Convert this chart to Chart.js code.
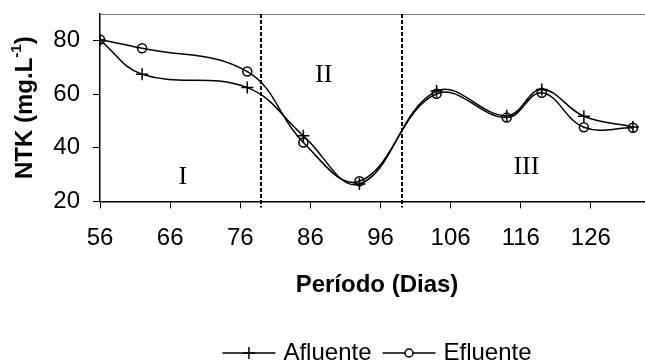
<!DOCTYPE html>
<html>
<head>
<meta charset="utf-8">
<script src="https://cdn.jsdelivr.net/npm/chart.js@4.4.0/dist/chart.umd.min.js"></script>
<style>
html, body { margin: 0; padding: 0; background: #fff; overflow: hidden; }
canvas { display: block; }
</style>
</head>
<body>
<canvas id="ntkChart" width="654" height="362"></canvas>
<script>
// NTK no afluente e efluente ao longo do período (dias)
const days = [56, 62, 77, 85, 93, 104, 114, 119, 125, 132];
const afluente = [80.3, 67.5, 62.5, 44.5, 26.5, 61.2, 52.0, 61.8, 51.8, 47.8];
const efluente = [80.5, 77.2, 68.5, 42.0, 27.5, 60.2, 51.3, 60.6, 47.7, 47.5];
const xTicks = [56, 66, 76, 86, 96, 106, 116, 126];
const yTicks = [20, 40, 60, 80];

// limites das fases e seus rótulos
const phaseLimits = [79, 99];
const phaseNames = ['I', 'II', 'III'];
const phaseSpots = [[67.8, 28.9], [87.9, 67.3], [116.8, 32.7]];

const FONT = "'Liberation Sans', Arial, sans-serif";
Chart.defaults.font.family = FONT;
Chart.defaults.color = '#000';

function toPoints(ys) {
    return days.map((d, i) => ({ x: d, y: ys[i] }));
}

function drawMarker(ctx, style, x, y) {
    ctx.beginPath();
    if (style === 'cross') {
        ctx.moveTo(x - 6, y); ctx.lineTo(x + 6, y);
        ctx.moveTo(x, y - 6); ctx.lineTo(x, y + 6);
    } else {
        ctx.arc(x, y, 4, 0, Math.PI * 2);
        ctx.fillStyle = '#fff';
        ctx.fill();
    }
    ctx.stroke();
}

// sem folga extra nas bordas dos eixos
function noScalePadding(s) {
    s.paddingTop = 0;
    s.paddingBottom = 0;
    s.paddingLeft = 0;
    s.paddingRight = 0;
}

const ntkDecor = {
    id: 'ntkDecor',
    beforeDatasetsDraw(chart) {
        const { ctx, chartArea: a, scales: { x, y } } = chart;
        ctx.save();
        // borda superior
        ctx.strokeStyle = '#777';
        ctx.lineWidth = 1;
        ctx.beginPath();
        ctx.moveTo(a.left, a.top + 0.5);
        ctx.lineTo(a.right, a.top + 0.5);
        ctx.stroke();
        // divisões das fases
        ctx.strokeStyle = '#000';
        ctx.lineWidth = 2;
        ctx.setLineDash([4, 2]);
        phaseLimits.forEach(v => {
            const px = Math.round(x.getPixelForValue(v));
            ctx.beginPath();
            ctx.moveTo(px, a.top);
            ctx.lineTo(px, a.bottom + 6);
            ctx.stroke();
        });
        ctx.setLineDash([]);
        ctx.font = "26px 'Liberation Serif', 'Times New Roman', serif";
        ctx.fillStyle = '#000';
        ctx.textAlign = 'center';
        ctx.textBaseline = 'middle';
        phaseNames.forEach((t, i) => {
            ctx.fillText(t, x.getPixelForValue(phaseSpots[i][0]), y.getPixelForValue(phaseSpots[i][1]));
        });
        ctx.restore();
    },
    afterDraw(chart) {
        const { ctx, chartArea: a } = chart;
        ctx.save();
        // título do eixo y com sobrescrito
        const main = 'NTK (mg.L', sup = '-1', close = ')';
        ctx.translate(25, (a.top + a.bottom) / 2);
        ctx.rotate(-Math.PI / 2);
        ctx.textBaseline = 'middle';
        ctx.fillStyle = '#000';
        ctx.font = 'bold 24px ' + FONT;
        const w1 = ctx.measureText(main).width;
        const w3 = ctx.measureText(close).width;
        ctx.font = 'bold 15px ' + FONT;
        const w2 = ctx.measureText(sup).width;
        let tx = -(w1 + w2 + w3) / 2;
        ctx.font = 'bold 24px ' + FONT;
        ctx.fillText(main, tx, 0);
        ctx.font = 'bold 15px ' + FONT;
        ctx.fillText(sup, tx + w1, -8);
        ctx.font = 'bold 24px ' + FONT;
        ctx.fillText(close, tx + w1 + w2, 0);
        ctx.restore();

        // legenda
        ctx.save();
        ctx.font = '24px ' + FONT;
        ctx.textBaseline = 'middle';
        ctx.fillStyle = '#000';
        ctx.strokeStyle = '#000';
        ctx.lineWidth = 1.5;
        const sets = chart.data.datasets;
        const icon = 53, gap = 8, between = 11;
        const widths = sets.map(s => icon + gap + ctx.measureText(s.label).width);
        const total = widths.reduce((p, c) => p + c, 0) + between * (sets.length - 1);
        let lx = (a.left + a.right) / 2 - total / 2;
        const ly = 353;
        sets.forEach((s, i) => {
            ctx.beginPath();
            ctx.moveTo(lx, ly);
            ctx.lineTo(lx + icon, ly);
            ctx.stroke();
            drawMarker(ctx, s.pointStyle, lx + icon / 2, ly);
            ctx.fillStyle = '#000';
            ctx.fillText(s.label, lx + icon + gap, ly);
            lx += widths[i] + between;
        });
        ctx.restore();
    }
};

const ctx = document.getElementById('ntkChart').getContext('2d');
const ntkChart = new Chart(ctx, {
    type: 'line',
    data: {
        datasets: [
            {
                label: 'Afluente',
                data: toPoints(afluente),
                borderColor: '#000',
                borderWidth: 1.5,
                pointStyle: 'cross',
                pointRadius: 6,
                pointBorderWidth: 1.5,
                pointBorderColor: '#000',
                tension: 0.4,
                fill: false
            },
            {
                label: 'Efluente',
                data: toPoints(efluente),
                borderColor: '#000',
                borderWidth: 1.5,
                pointStyle: 'circle',
                pointRadius: 4.5,
                pointBorderWidth: 1.5,
                pointBorderColor: '#000',
                pointBackgroundColor: 'rgba(0,0,0,0)',
                tension: 0.4,
                fill: false
            }
        ]
    },
    options: {
        responsive: false,
        animation: false,
        devicePixelRatio: 1,
        layout: { autoPadding: false, padding: { top: 14, right: 0, bottom: 62, left: 0 } },
        plugins: {
            legend: { display: false },
            tooltip: { enabled: false }
        },
        scales: {
            x: {
                type: 'linear',
                min: 56,
                max: 135,
                afterBuildTicks: s => { s.ticks = xTicks.map(v => ({ value: v })); },
                afterFit: noScalePadding,
                ticks: { font: { size: 24 }, color: '#000', padding: 16, maxRotation: 0 },
                grid: { drawOnChartArea: false, tickLength: 7, color: '#000', tickWidth: 1 },
                border: { color: '#000', width: 1.5 },
                title: {
                    display: true,
                    text: 'Período (Dias)',
                    font: { size: 24, weight: 'bold' },
                    color: '#000',
                    padding: { top: 2, bottom: 0 }
                }
            },
            y: {
                min: 20,
                max: 90,
                afterBuildTicks: s => { s.ticks = yTicks.map(v => ({ value: v })); },
                afterFit: s => { noScalePadding(s); s.width = 100; },
                ticks: { font: { size: 24 }, color: '#000', padding: 13 },
                grid: { drawOnChartArea: false, tickLength: 7, color: '#000', tickWidth: 1 },
                border: { color: '#000', width: 1.5 }
            }
        }
    },
    plugins: [ntkDecor]
});
</script>
</body>
</html>
